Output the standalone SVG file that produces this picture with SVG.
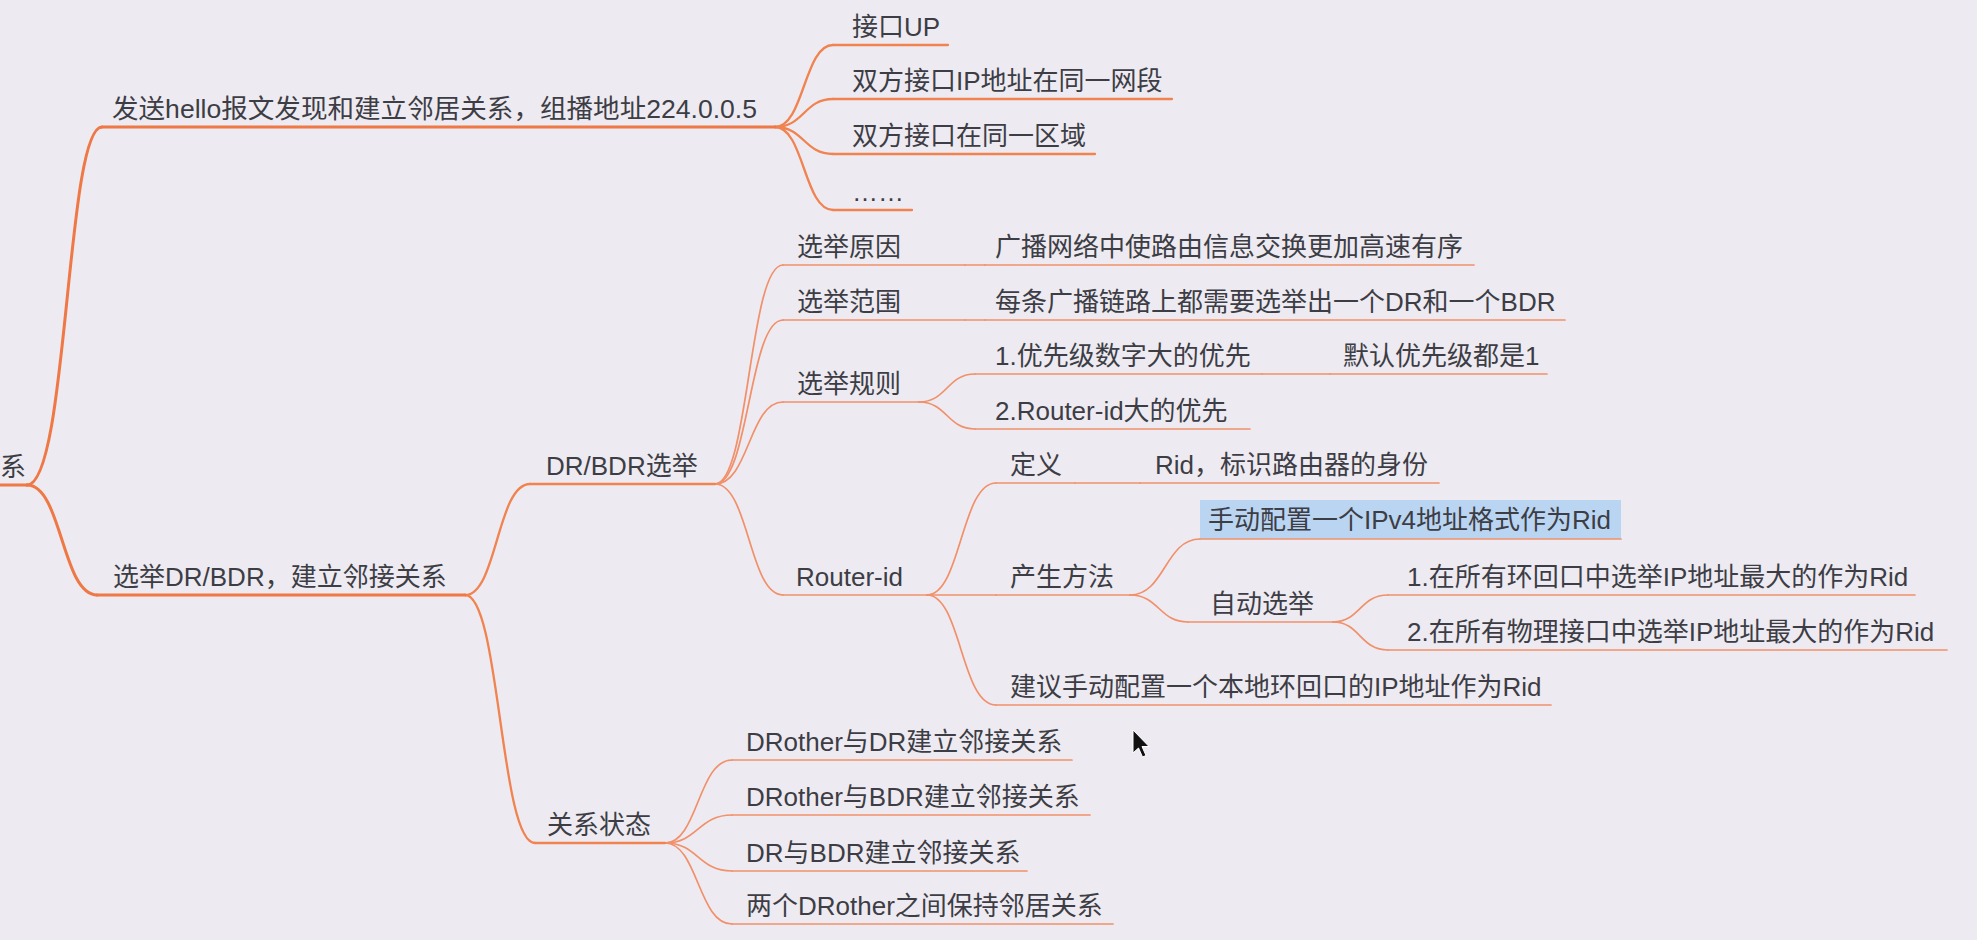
<svg xmlns="http://www.w3.org/2000/svg" width="1977" height="940" viewBox="0 0 1977 940">
<style>
text{font-family:"Liberation Sans","Noto Sans CJK SC",sans-serif;font-size:26px;fill:#3d3d45}
.c1,.c2,.c3,.u1,.u2,.u3{fill:none;stroke-linecap:round}
.c1,.u1{stroke:#ee7946;stroke-width:3}
.c2,.u2{stroke:#f0834f;stroke-width:2.3}
.c3,.u3{stroke:#f1906a;stroke-width:1.7}
</style>
<rect width="1977" height="940" fill="#edebf1"/>
<g id="connectors">
<path class="c1" d="M27 485 C68 485 66 127 102 127"/>
<path class="c1" d="M27 485 C62 485 62 595 97 595"/>
<path class="c2" d="M775 127 C804 127 804 45 833 45"/>
<path class="c2" d="M775 127 C804 127 804 99 833 99"/>
<path class="c2" d="M775 127 C804 127 804 154 833 154"/>
<path class="c2" d="M775 127 C804 127 804 210 833 210"/>
<path class="c2" d="M465 595 C497 595 497 484 530 484"/>
<path class="c2" d="M465 595 C500 595 500 843 535 843"/>
<path class="c3" d="M715 484 C749 484 749 265 783 265"/>
<path class="c3" d="M715 484 C749 484 749 320 783 320"/>
<path class="c3" d="M715 484 C749 484 749 402 783 402"/>
<path class="c3" d="M715 484 C749 484 749 595 783 595"/>
<path class="c3" d="M965 265 L985 265"/>
<path class="c3" d="M965 320 L985 320"/>
<path class="c3" d="M919 402 C947 402 947 374 975 374"/>
<path class="c3" d="M919 402 C947 402 947 429 975 429"/>
<path class="c3" d="M1262 374 L1330 374"/>
<path class="c3" d="M927 595 C961 595 961 483 996 483"/>
<path class="c3" d="M927 595 L996 595"/>
<path class="c3" d="M927 595 C961 595 961 705 996 705"/>
<path class="c3" d="M1075 483 L1140 483"/>
<path class="c3" d="M1130 595 C1165 595 1165 539 1200 539"/>
<path class="c3" d="M1130 595 C1159 595 1159 622 1188 622"/>
<path class="c3" d="M1333 622 C1360 622 1360 595 1388 595"/>
<path class="c3" d="M1333 622 C1360 622 1360 650 1388 650"/>
<path class="c3" d="M665 843 C698 843 698 760 732 760"/>
<path class="c3" d="M665 843 C698 843 698 815 732 815"/>
<path class="c3" d="M665 843 C698 843 698 871 732 871"/>
<path class="c3" d="M665 843 C698 843 698 924 732 924"/>
</g>
<g id="root"><text x="0" y="476">系</text><path class="u1" d="M0 485 L27 485"/></g>
<g id="b1"><text x="112" y="118" textLength="645" lengthAdjust="spacingAndGlyphs">发送hello报文发现和建立邻居关系，组播地址224.0.0.5</text><path class="u1" d="M102 127 L775 127"/></g>
<g id="b1-up"><text x="852" y="36">接口UP</text><path class="u2" d="M833 45 L948 45"/></g>
<g id="b1-ip"><text x="852" y="90">双方接口IP地址在同一网段</text><path class="u2" d="M833 99 L1172 99"/></g>
<g id="b1-area"><text x="852" y="145">双方接口在同一区域</text><path class="u2" d="M833 154 L1095 154"/></g>
<g id="b1-more"><text x="852" y="201">……</text><path class="u2" d="M833 210 L912 210"/></g>
<g id="b2"><text x="113" y="586">选举DR/BDR，建立邻接关系</text><path class="u1" d="M97 595 L465 595"/></g>
<g id="drbdr"><text x="546" y="475">DR/BDR选举</text><path class="u2" d="M530 484 L715 484"/></g>
<g id="reason"><text x="797" y="256">选举原因</text><path class="u3" d="M783 265 L965 265"/></g>
<g id="reason-c"><text x="995" y="256">广播网络中使路由信息交换更加高速有序</text><path class="u3" d="M985 265 L1474 265"/></g>
<g id="scope"><text x="797" y="311">选举范围</text><path class="u3" d="M783 320 L965 320"/></g>
<g id="scope-c"><text x="995" y="311">每条广播链路上都需要选举出一个DR和一个BDR</text><path class="u3" d="M985 320 L1565 320"/></g>
<g id="rule"><text x="797" y="393">选举规则</text><path class="u3" d="M783 402 L919 402"/></g>
<g id="rule1"><text x="995" y="365">1.优先级数字大的优先</text><path class="u3" d="M975 374 L1262 374"/></g>
<g id="rule1-c"><text x="1343" y="365">默认优先级都是1</text><path class="u3" d="M1330 374 L1547 374"/></g>
<g id="rule2"><text x="995" y="420">2.Router-id大的优先</text><path class="u3" d="M975 429 L1250 429"/></g>
<g id="rid"><text x="796" y="586">Router-id</text><path class="u3" d="M783 595 L927 595"/></g>
<g id="def"><text x="1010" y="474">定义</text><path class="u3" d="M996 483 L1075 483"/></g>
<g id="def-c"><text x="1155" y="474">Rid，标识路由器的身份</text><path class="u3" d="M1140 483 L1439 483"/></g>
<g id="gen"><text x="1010" y="586">产生方法</text><path class="u3" d="M996 595 L1130 595"/></g>
<g id="manual"><rect x="1200" y="500" width="421" height="39" fill="#bad5f2"/><text x="1208" y="529">手动配置一个IPv4地址格式作为Rid</text><path class="u3" d="M1200 539 L1621 539"/></g>
<g id="auto"><text x="1210" y="613">自动选举</text><path class="u3" d="M1188 622 L1333 622"/></g>
<g id="auto1"><text x="1407" y="586">1.在所有环回口中选举IP地址最大的作为Rid</text><path class="u3" d="M1388 595 L1915 595"/></g>
<g id="auto2"><text x="1407" y="641">2.在所有物理接口中选举IP地址最大的作为Rid</text><path class="u3" d="M1388 650 L1947 650"/></g>
<g id="advice"><text x="1010" y="696">建议手动配置一个本地环回口的IP地址作为Rid</text><path class="u3" d="M996 705 L1551 705"/></g>
<g id="state"><text x="547" y="834">关系状态</text><path class="u2" d="M535 843 L665 843"/></g>
<g id="state1"><text x="746" y="751">DRother与DR建立邻接关系</text><path class="u3" d="M732 760 L1072 760"/></g>
<g id="state2"><text x="746" y="806">DRother与BDR建立邻接关系</text><path class="u3" d="M732 815 L1090 815"/></g>
<g id="state3"><text x="746" y="862">DR与BDR建立邻接关系</text><path class="u3" d="M732 871 L1027 871"/></g>
<g id="state4"><text x="746" y="915">两个DRother之间保持邻居关系</text><path class="u3" d="M732 924 L1113 924"/></g>
<path d="M1133 730 L1133 753 L1138.5 748 L1142.5 757 L1146 755.5 L1142 746.5 L1149 746.5 Z" fill="#111" stroke="#fff" stroke-width="1"/>
</svg>
